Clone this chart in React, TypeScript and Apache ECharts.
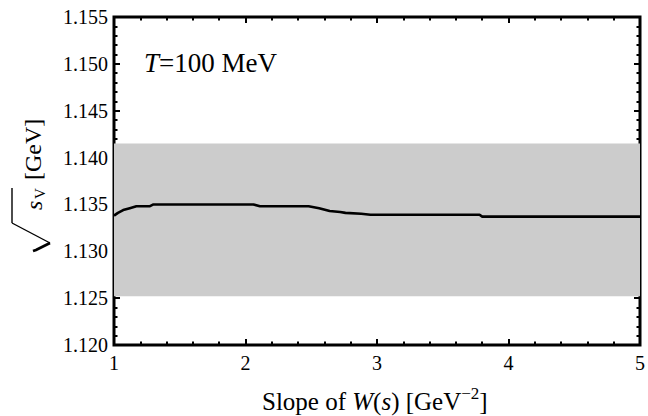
import React, { useEffect, useRef } from "react";
import * as echarts from "echarts";

const slopeValues = [1.0, 1.03, 1.07, 1.12, 1.17, 1.27, 1.3, 2.06, 2.11, 2.48, 2.56, 2.64, 2.72, 2.76, 2.88, 2.95, 3.78, 3.8, 5.0];
const sqrtSV = [1.1338, 1.1341, 1.1344, 1.1346, 1.1348, 1.1348, 1.135, 1.135, 1.1348, 1.1348, 1.1346, 1.1343, 1.1342, 1.1341, 1.134, 1.1339, 1.1339, 1.1337, 1.1337];
const bandLow = 1.1252;
const bandHigh = 1.1415;
const xTicks = [1, 2, 3, 4, 5];
const yMin = 1.12;
const yMax = 1.155;

const FONT = "Liberation Serif";

export default function App() {
  const ref = useRef<HTMLDivElement>(null);
  useEffect(() => {
    if (!ref.current) return;
    const chart = echarts.init(ref.current, null, { renderer: "svg" });
    const tick = { show: true, inside: true, length: 6, lineStyle: { color: "#000", width: 2 } };
    const minor = { show: true, splitNumber: 5, length: 3.5, lineStyle: { color: "#000", width: 2 } };
    const labelStyle = { color: "#000", fontFamily: FONT, fontSize: 20 };
    const xBase = {
      type: "value" as const,
      min: xTicks[0],
      max: xTicks[xTicks.length - 1],
      interval: 1,
      axisLine: { show: false },
      axisTick: tick,
      minorTick: minor,
      splitLine: { show: false },
    };
    const yBase = {
      type: "value" as const,
      min: yMin,
      max: yMax,
      interval: 0.005,
      axisLine: { show: false },
      axisTick: tick,
      minorTick: minor,
      splitLine: { show: false },
    };
    chart.setOption({
      animation: false,
      grid: {
        left: 114,
        right: 6,
        top: 17,
        bottom: 71,
        show: true,
        borderColor: "#000",
        borderWidth: 3,
        backgroundColor: "transparent",
      },
      xAxis: [
        { ...xBase, position: "bottom", axisLabel: { ...labelStyle, margin: 8, showMinLabel: true, showMaxLabel: true } },
        { ...xBase, position: "top", axisLabel: { show: false } },
      ],
      yAxis: [
        { ...yBase, position: "left", axisLabel: { ...labelStyle, margin: 6, formatter: (v: number) => v.toFixed(3) } },
        { ...yBase, position: "right", axisLabel: { show: false } },
      ],
      series: [
        {
          type: "line",
          data: slopeValues.map((x, i) => [x, sqrtSV[i]]),
          symbol: "none",
          lineStyle: { color: "#000", width: 2.6 },
          z: 5,
          markArea: {
            silent: true,
            itemStyle: { color: "#cccccc" },
            data: [[{ yAxis: bandLow }, { yAxis: bandHigh }]],
          },
        },
      ],
      graphic: [
        {
          type: "text",
          x: 144,
          y: 63,
          style: {
            text: "{i|T}{n|=100 MeV}",
            textVerticalAlign: "middle",
            textAlign: "left",
            rich: {
              i: { fontFamily: FONT, fontSize: 27, fontStyle: "italic", fill: "#000" },
              n: { fontFamily: FONT, fontSize: 27, fill: "#000" },
            },
          },
        },
        {
          type: "text",
          x: 262,
          y: 401,
          style: {
            text: "{n|Slope of }{i|W}{n|(}{i|s}{n|) [GeV}{sup|−2}{n|]}",
            textVerticalAlign: "middle",
            textAlign: "left",
            rich: {
              n: { fontFamily: FONT, fontSize: 25, fill: "#000" },
              i: { fontFamily: FONT, fontSize: 25, fontStyle: "italic", fill: "#000" },
              sup: { fontFamily: FONT, fontSize: 17, fill: "#000", padding: [0, 0, 16, 0] },
            },
          },
        },
        {
          type: "group",
          x: 0,
          y: 260,
          rotation: Math.PI / 2,
          children: [
            {
              type: "polyline",
              shape: { points: [[37, 12], [72, 12]] },
              style: { stroke: "#000", lineWidth: 1.4, fill: null },
            },
            {
              type: "polyline",
              shape: { points: [[17, 50], [37, 12]] },
              style: { stroke: "#000", lineWidth: 1.4, fill: null },
            },
            {
              type: "polyline",
              shape: { points: [[9, 33], [10, 36], [17, 50]] },
              style: { stroke: "#000", lineWidth: 2.8, fill: null },
            },
            {
              type: "text",
              x: 50,
              y: 34,
              style: {
                text: "s",
                fontFamily: FONT,
                fontSize: 24,
                fontStyle: "italic",
                fill: "#000",
                textVerticalAlign: "middle",
                textAlign: "left",
              },
            },
            {
              type: "text",
              x: 61,
              y: 40,
              style: {
                text: "V",
                fontFamily: FONT,
                fontSize: 15,
                fill: "#000",
                textVerticalAlign: "middle",
                textAlign: "left",
              },
            },
            {
              type: "text",
              x: 80,
              y: 33,
              style: {
                text: "[GeV]",
                fontFamily: FONT,
                fontSize: 24,
                fill: "#000",
                textVerticalAlign: "middle",
                textAlign: "left",
              },
            },
          ],
        },
      ],
    });
    return () => chart.dispose();
  }, []);
  return <div ref={ref} style={{ position: "absolute", left: 0, top: 0, width: 648, height: 416 }} />;
}
